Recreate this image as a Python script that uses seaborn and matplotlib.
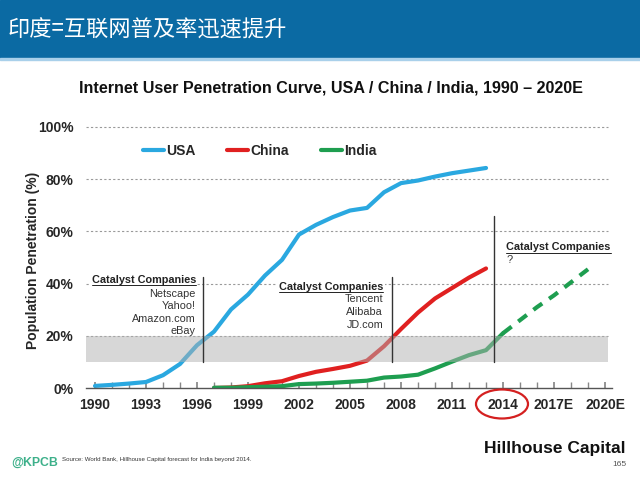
import numpy as np
import pandas as pd
import matplotlib
matplotlib.use("Agg")
import matplotlib.pyplot as plt
import seaborn as sns
from matplotlib.lines import Line2D
from matplotlib.patches import Rectangle, Ellipse

# ---------------- data ----------------
usa_years = list(range(1990, 2014))
usa_vals = [0.8, 1.2, 1.7, 2.3, 4.9, 9.2, 16.4, 21.6, 30.1, 35.8, 43.1, 49.1,
            58.8, 62.5, 65.5, 68.0, 69.0, 75.0, 78.5, 79.5, 81.0, 82.3, 83.3, 84.3]
china_years = list(range(1997, 2014))
china_vals = [0.0, 0.2, 0.7, 1.8, 2.6, 4.6, 6.2, 7.3, 8.5, 10.5, 16.0, 22.6,
              28.9, 34.3, 38.3, 42.3, 45.8]
india_years = list(range(1997, 2015))
india_vals = [0.1, 0.1, 0.3, 0.5, 0.7, 1.5, 1.7, 2.0, 2.4, 2.8, 4.0, 4.4,
              5.1, 7.5, 10.1, 12.6, 14.5, 21.0]
india_fc_years = [2014, 2015, 2016, 2017, 2018, 2019]
india_fc_vals = [21.0, 26.0, 31.0, 35.5, 40.5, 45.5]

series_names = ["USA", "China", "India"]
series_colors = ["#2AA8E0", "#E02020", "#1E9E50"]

xtick_years = [1990, 1993, 1996, 1999, 2002, 2005, 2008, 2011, 2014, 2017, 2020]
xtick_labels = ["1990", "1993", "1996", "1999", "2002", "2005", "2008", "2011",
                "2014", "2017E", "2020E"]
ytick_vals = [0, 20, 40, 60, 80, 100]
ytick_labels = ["0%", "20%", "40%", "60%", "80%", "100%"]

catalyst_x = [1996.35, 2007.47, 2013.47]
catalyst_top = [42.6, 42.6, 65.9]
catalyst_lists = [["Netscape", "Yahoo!", "Amazon.com", "eBay"],
                  ["Tencent", "Alibaba", "JD.com"],
                  ["?"]]
band = (10, 20)

title = "Internet User Penetration Curve, USA / China / India, 1990 \u2013 2020E"
header = "印度=互联网普及率迅速提升"
source = "Source: World Bank, Hillhouse Capital forecast for India beyond 2014."

# ---------------- style ----------------
sns.set_theme(style="white")
plt.rcParams["font.family"] = ["Liberation Sans", "DejaVu Sans"]

df = pd.concat([
    pd.DataFrame({"year": usa_years, "pct": usa_vals, "country": "USA"}),
    pd.DataFrame({"year": china_years, "pct": china_vals, "country": "China"}),
    pd.DataFrame({"year": india_years, "pct": india_vals, "country": "India"}),
], ignore_index=True)
df_fc = pd.DataFrame({"year": india_fc_years, "pct": india_fc_vals, "country": "India"})
palette = dict(zip(series_names, series_colors))

fig = plt.figure(figsize=(6.4, 4.8), dpi=100)
ax = fig.add_axes([86 / 640, 92 / 480, 526 / 640, 261 / 480])

sns.lineplot(data=df, x="year", y="pct", hue="country", palette=palette,
             hue_order=series_names, linewidth=3, legend=False, ax=ax, zorder=2)
sns.lineplot(data=df_fc, x="year", y="pct", color=palette["India"], linewidth=3,
             legend=False, ax=ax, zorder=2)
ax.lines[-1].set_dashes((2.6, 2.0))

ax.set_xlim(1989.47, 2020.41)
ax.set_ylim(0, 100)

# grey band
ax.axhspan(band[0], band[1], xmin=0, xmax=0.992, color="#B0B0B0", alpha=0.5,
           lw=0, zorder=3)
# grid
for v in ytick_vals[1:]:
    ax.axhline(v, xmin=0, xmax=0.992, color="#9A9A9A", lw=0.8,
               ls=(0, (2, 2)), zorder=1, clip_on=False)

# vertical lines
for x, top in zip(catalyst_x, catalyst_top):
    ax.plot([x, x], [band[0], top], color="#333333", lw=1.0, zorder=4)

# spines / ticks
for s in ["left", "top", "right"]:
    ax.spines[s].set_visible(False)
ax.spines["bottom"].set_color("#555555")
ax.spines["bottom"].set_linewidth(1.0)
ax.set_xticks(xtick_years)
ax.set_xticklabels(xtick_labels, fontsize=10, fontweight="bold")
ax.set_xticks(list(range(1990, 2021)), minor=True)
ax.tick_params(axis="x", which="both", direction="in", length=4, color="#888888",
               pad=7, bottom=True)
ax.set_yticks(ytick_vals)
ax.set_yticklabels(ytick_labels, fontsize=10, fontweight="bold")
ax.tick_params(axis="y", length=0, pad=9)
ax.set_xlabel("")
ax.set_ylabel("Population Penetration (%)", fontsize=10, fontweight="bold")
ax.yaxis.set_label_coords(-0.088, 0.49)

# legend
handles = [Line2D([], [], color=c, lw=3) for c in series_colors]
leg = ax.legend(handles, series_names, ncol=3, frameon=False, loc="center",
                bbox_to_anchor=(0.33, 0.908), handlelength=1.5,
                handletextpad=0.15, columnspacing=2.3,
                prop={"weight": "bold", "size": 10})

# catalyst texts
fs_t = 7.8
fs_i = 7.8
tb = dict(facecolor="white", edgecolor="none", pad=1.0)
cat_titles = []
t1 = ax.text(1995.94, 41.4, "Catalyst Companies", ha="right", va="center",
             fontsize=fs_t, fontweight="bold", color="#222222", zorder=5, bbox=tb)
cat_titles.append(t1)
for name, y in zip(catalyst_lists[0], [36.2, 31.3, 26.6, 21.9]):
    ax.text(1995.94, y, name, ha="right", va="center", fontsize=fs_i,
            color="#333333", zorder=5)
t2 = ax.text(2006.95, 38.8, "Catalyst Companies", ha="right", va="center",
             fontsize=fs_t, fontweight="bold", color="#222222", zorder=5, bbox=tb)
cat_titles.append(t2)
for name, y in zip(catalyst_lists[1], [34.0, 29.0, 24.3]):
    ax.text(2006.95, y, name, ha="right", va="center", fontsize=fs_i,
            color="#333333", zorder=5)
t3 = ax.text(2014.2, 53.9, "Catalyst Companies", ha="left", va="center",
             fontsize=fs_t, fontweight="bold", color="#222222", zorder=5, bbox=tb)
cat_titles.append(t3)
ax.text(2014.2, 49.0, catalyst_lists[2][0], ha="left", va="center",
        fontsize=fs_i, color="#333333", zorder=5)

# header band
fig.patches.append(Rectangle((0, 1 - 58 / 480), 1, 58 / 480,
                             transform=fig.transFigure, color="#0B6AA3", zorder=0))
fig.patches.append(Rectangle((0, 1 - 60 / 480), 1, 2 / 480,
                             transform=fig.transFigure, color="#A9D0EA", zorder=0))
fig.text(8 / 640, 1 - 30 / 480, header, color="white", fontsize=16,
         ha="left", va="center", family=["Noto Sans CJK SC", "DejaVu Sans"])

fig.text(331 / 640, 1 - 88 / 480, title, ha="center", va="center",
         fontsize=11.6, fontweight="bold", color="#111111")

# footer
fig.text(11 / 640, 1 - 463 / 480, "@KPCB", color="#3DB08A", fontsize=8.8,
         fontweight="bold", ha="left", va="center")
fig.text(62 / 640, 1 - 459 / 480, source, fontsize=4.4, color="#333333",
         ha="left", va="center")
fig.text(626 / 640, 1 - 449 / 480, "Hillhouse Capital", fontsize=12.5,
         fontweight="bold", ha="right", va="center", color="#111111")
fig.text(626 / 640, 1 - 464 / 480, "165", fontsize=6, ha="right", va="center",
         color="#555555")

# 2014 ellipse
fig.patches.append(Ellipse((502 / 100, (480 - 404) / 100), 0.52, 0.29,
                           transform=fig.dpi_scale_trans, fill=False,
                           edgecolor="#D42020", lw=1.6))

# underline catalyst titles
fig.canvas.draw()
r = fig.canvas.get_renderer()
for t in cat_titles:
    bb = t.get_window_extent(renderer=r)
    y = bb.y0 - 0.5
    fig.add_artist(Line2D([bb.x0 / 640, bb.x1 / 640], [y / 480, y / 480],
                          transform=fig.transFigure, color="#222222", lw=0.7))

fig.savefig("out.png", dpi=100)
